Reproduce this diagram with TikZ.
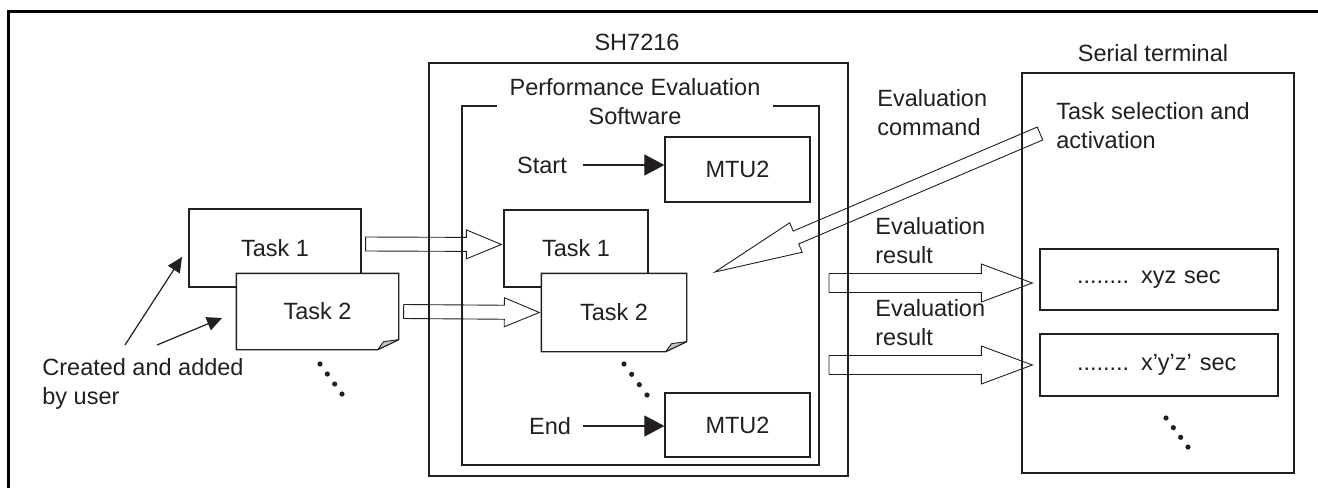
\documentclass[tikz,border=0pt]{standalone}
\usepackage{fontspec}
\setmainfont{Liberation Sans}
\usetikzlibrary{calc,arrows.meta}
\definecolor{ink}{HTML}{231F20}
\tikzset{
  lbl/.style={font=\fontsize{11.75}{14.5}\selectfont, text=ink, inner sep=0pt},
  box/.style={lbl, draw=ink, line width=0.65pt, fill=white},
  frame/.style={draw=ink, line width=0.8pt},
  fat/.style={draw=ink, line width=0.45pt, line join=miter},
  ptr/.style={draw=ink, line width=0.6pt, -{Triangle[length=10pt,width=10.5pt]}},
  uptr/.style={draw=ink, line width=0.6pt, -{Triangle[length=7.5pt,width=7pt]}},
  curl/.style={draw=ink, line width=0.45pt, fill=gray!45, line join=round},
}
% outline of a page with a curled lower right corner, around node #1
\newcommand\foldedpage[1]{%
  \draw[ink, line width=0.65pt] (#1.north west) -- (#1.north east)
    -- ($(#1.south east)+(0,-10)$) -- ($(#1.south east)+(-21,0)$)
    -- (#1.south west) -- cycle;
  \filldraw[curl] ($(#1.south east)+(-21,0)$) -- ($(#1.south east)+(0,-10)$)
    -- ($(#1.south east)+(-15,-8)$) -- cycle;}
% hollow block arrow: #1 tail, #2 tip, #3 shaft half width, #4 head half width, #5 head length
\newcommand\fatarrow[5]{%
  \coordinate (fa-h) at ($(#2)!#5!(#1)$);
  \draw[fat] ($(#1)!#3!-90:(#2)$) -- ($(fa-h)!#3!90:(#1)$) -- ($(fa-h)!#4!90:(#1)$)
    -- (#2) -- ($(fa-h)!#4!-90:(#1)$) -- ($(fa-h)!#3!-90:(#1)$)
    -- ($(#1)!#3!90:(#2)$) -- cycle;}
% a row of four dots from #1 to #2
\newcommand\fourdots[2]{%
  \foreach \i in {0,...,3} \fill[ink] ($(#1)!\i/3!(#2)$) circle (1.3pt);}

\begin{document}
\begin{tikzpicture}[x=0.5pt,y=-0.5pt]
\useasboundingbox (0,0) rectangle (1318,488);
\fill[white] (0,0) rectangle (1318,488);
% page frame
\draw[black, line width=1.5pt] (1318,11) -- (8,11) -- (8,488);

% SH7216 and the evaluation software
\node[lbl] (shlbl) at (637,42) {SH7216};
\node[box, frame, minimum width=209.5pt, minimum height=206.5pt] (sh) at (638.5,269.5) {};
\node[box, frame, minimum width=178.5pt, minimum height=179.5pt] (pes) at (640.5,285.5) {};
\node[lbl, align=center, fill=white, inner xsep=6.5pt, inner ysep=1pt] (pestitle) at (635,102)
  {Performance Evaluation\\Software};

\node[box, minimum width=72.5pt, minimum height=32.5pt] (m1) at (737.5,169.5) {MTU2};
\node[box, minimum width=72.5pt, minimum height=32pt] (m2) at (737.5,425) {MTU2};
\node[lbl] (start) at (542,165) {Start};
\node[lbl] (end) at (550,426) {End};
\draw[ptr, shorten <=8pt] (start.east) -- (start.east -| m1.west);
\draw[ptr, shorten <=6pt] (end.east) -- (end.east -| m2.west);

% user tasks
\node[box, minimum width=86pt, minimum height=39pt] (t1a) at (275,248) {Task 1};
\node[box, draw=none, minimum width=80.5pt, minimum height=37.5pt] (t2a) at (317.5,311.5) {Task 2};
\foldedpage{t2a}
\node[box, minimum width=72pt, minimum height=38.5pt] (t1b) at (576,248.5) {Task 1};
\node[box, draw=none, minimum width=72pt, minimum height=38.5pt] (t2b) at (614,312.5) {Task 2};
\foldedpage{t2b}

\coordinate (dl1) at (320,364); \coordinate (dl2) at (342,394);
\coordinate (dm1) at (624,364); \coordinate (dm2) at (647,395);
\fourdots{dl1}{dl2}
\fourdots{dm1}{dm2}

\coordinate (a1s) at ($(t1a.east)+(4,-4)$);
\coordinate (a1e) at ($(t1b.west)+(-2,-4)$);
\coordinate (a2s) at ($(t2a.east)+(5,0)$);
\coordinate (a2e) at ($(t2b.west)+(-2,0)$);
\fatarrow{a1s}{a1e}{3.5pt}{7.25pt}{17.5pt}
\fatarrow{a2s}{a2e}{3.5pt}{7.25pt}{17.5pt}

% created by the user
\node[lbl, align=left, anchor=west] (user) at (42,384) {Created and added\\by user};
\coordinate (u1) at (125,345); \coordinate (u1tip) at (182,257);
\coordinate (u2) at (157,345); \coordinate (u2tip) at (222,318);
\draw[uptr] (u1) -- (u1tip);
\draw[uptr] (u2) -- (u2tip);

% serial terminal
\node[lbl] (stlbl) at (1153,53) {Serial terminal};
\node[box, minimum width=136pt, minimum height=200pt] (term) at (1158,273) {};
\node[lbl, align=left, anchor=west] (sel) at (1056,126) {Task selection and\\activation};
\node[box, text width=82pt, inner xsep=18.5pt, align=left, minimum height=30.5pt] (res1) at (1159,279.5)
  {........ xyz sec};
\node[box, text width=82pt, inner xsep=18.5pt, align=left, minimum height=31pt] (res2) at (1159,365)
  {........ x’y’z’ sec};
\coordinate (dr1) at (1166,418); \coordinate (dr2) at (1188,447);
\fourdots{dr1}{dr2}

% evaluation command and results
\node[lbl, align=left, anchor=west] (cmd) at (877,112.5) {Evaluation\\command};
\node[lbl, align=left, anchor=west] (r1lbl) at (875,240.5) {Evaluation\\result};
\node[lbl, align=left, anchor=west] (r2lbl) at (875,322.5) {Evaluation\\result};

\coordinate (ctail) at (1040,133.5);
\coordinate (ctip) at (715,272);
\fatarrow{ctail}{ctip}{3.5pt}{8pt}{44pt}

\coordinate (r1s) at (829,283);
\coordinate (r1e) at ($(res1.west)+(-7,3.5)$);
\coordinate (r2s) at (829,365);
\coordinate (r2e) at ($(res2.west)+(-7,0)$);
\fatarrow{r1s}{r1e}{4.75pt}{9.5pt}{25.5pt}
\fatarrow{r2s}{r2e}{4.75pt}{9.5pt}{25.5pt}
\end{tikzpicture}
\end{document}
